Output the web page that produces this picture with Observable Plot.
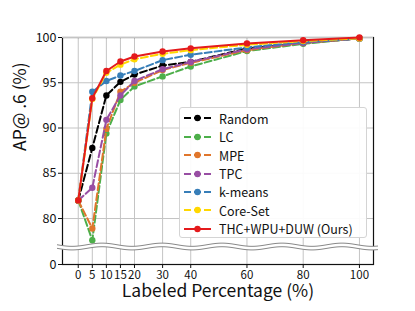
<!DOCTYPE html>
<html><head><meta charset="utf-8">
<script src="https://cdn.jsdelivr.net/npm/d3@7"></script>
<script src="https://cdn.jsdelivr.net/npm/@observablehq/plot@0.6"></script>
<style>
body{margin:0;background:#fff;font-family:"Noto Sans CJK JP","Noto Sans",sans-serif}
#wrap{position:relative;width:415px;height:311px}
.legend{position:absolute;left:179px;top:107px;width:188px;height:131px;box-sizing:border-box;border:1px solid #d4d4d4;border-radius:3px;background:rgba(255,255,255,0.92)}
.row{position:absolute;left:0;height:18px;display:flex;align-items:center;font-size:12.5px;color:#111;white-space:nowrap}
.row svg{margin-left:3px;margin-right:8px}
</style></head><body><div id="wrap"></div>
<script>
const xValues = [0, 5, 10, 15, 20, 30, 40, 60, 80, 100];
const xTicks = [0, 5, 10, 15, 20, 30, 40, 60, 80, 100];
const yTicks = [0, 80, 85, 90, 95, 100];
const seriesNames = ["Random", "LC", "MPE", "TPC", "k-means", "Core-Set", "THC+WPU+DUW (Ours)"];
const seriesColors = ["#000000", "#4daf4a", "#e0762c", "#984ea3", "#377eb8", "#ffd700", "#e41a1c"];
const random  = [82, 87.8, 93.6, 95.1, 95.9, 96.9, 97.3, 98.8, 99.4, 99.9];
const lc      = [82, 77.6, 89.4, 93.1, 94.6, 95.7, 96.8, 98.5, 99.3, 99.9];
const mpe     = [82, 78.9, 89.9, 94.0, 95.0, 96.4, 97.2, 98.6, 99.4, 99.9];
const tpc     = [82, 83.4, 90.9, 93.6, 95.2, 96.5, 97.3, 98.7, 99.4, 99.9];
const kmeans  = [82, 94.0, 95.2, 95.8, 96.3, 97.5, 98.1, 98.9, 99.5, 99.9];
const coreset = [82, 93.2, 96.1, 97.0, 97.6, 98.2, 98.6, 99.2, 99.6, 99.9];
const ours    = [82, 93.3, 96.3, 97.35, 97.9, 98.45, 98.8, 99.35, 99.7, 100];
const seriesValues = [random, lc, mpe, tpc, kmeans, coreset, ours];

const BREAK_BASE = 74.92;   // where 0 sits on the broken axis
const BREAK_AT = 76.85;     // position of the wavy break

const rows = [];
seriesNames.forEach((s, i) => seriesValues[i].forEach((v, j) => rows.push({series: s, x: xValues[j], y: v})));

const marks = [
  Plot.gridX(xTicks, {stroke: "#c4c4c4", strokeOpacity: 1, strokeWidth: 1}),
  Plot.gridY(yTicks, {stroke: "#c4c4c4", strokeOpacity: 1, strokeWidth: 1}),
  Plot.frame({stroke: "#111", strokeWidth: 1.2}),
  Plot.gridY([100], {stroke: "#c4c4c4", strokeOpacity: 1, strokeWidth: 1.2}),
  Plot.axisX(xTicks, {tickSize: 4, tickPadding: 2, fontSize: 11.5, label: null, stroke: "#111"}),
  Plot.axisY(yTicks, {tickSize: 4, tickPadding: 2, fontSize: 12.5, label: null, stroke: "#111"}),
];
seriesNames.forEach((s, i) => {
  const d = rows.filter(r => r.series === s);
  const ourSeries = i === seriesNames.length - 1;
  marks.push(Plot.line(d, {x: "x", y: "y", stroke: seriesColors[i], strokeWidth: 2,
    strokeDasharray: ourSeries ? null : "7,3"}));
  marks.push(Plot.dot(d, {x: "x", y: "y", fill: seriesColors[i], r: 3.2, stroke: "none"}));
});
marks.push(Plot.text(["Labeled Percentage (%)"], {frameAnchor: "bottom", dy: 32, fontSize: 17.5, fill: "#111"}));
marks.push(Plot.text(["AP@ .6 (%)"], {frameAnchor: "left", dx: -42, rotate: -90, fontSize: 17.5, fill: "#111"}));

const chart = Plot.plot({
  width: 415, height: 311,
  marginLeft: 62, marginRight: 42, marginTop: 37, marginBottom: 47,
  style: {fontFamily: '"Noto Sans CJK JP","Noto Sans",sans-serif', fontSize: "12px", background: "white", color: "#111"},
  x: {domain: [-5.6, 105]},
  y: {domain: [BREAK_BASE, 100], transform: v => v < 50 ? BREAK_BASE + v : v},
  marks
});
document.getElementById("wrap").appendChild(chart);

// wavy axis break
const yScale = chart.scale("y");
const yc = yScale.apply(BREAK_AT);
const wx0 = 57, wx1 = 378;
const svgSel = d3.select(chart);
const wave = (off) => d3.range(wx0, wx1 + 1, 1).map(x => [x, yc + off + 1.6 * Math.sin((x - wx0) / 60 * 2 * Math.PI)]);
const waveTop = wave(-1.8), waveBot = wave(1.8);
svgSel.append("path").attr("d", d3.line()(waveTop.concat(waveBot.slice().reverse())) + "Z").attr("fill", "white").attr("stroke", "none");
svgSel.append("path").attr("d", d3.line()(waveTop)).attr("fill", "none").attr("stroke", "#888").attr("stroke-width", 1);
svgSel.append("path").attr("d", d3.line()(waveBot)).attr("fill", "none").attr("stroke", "#888").attr("stroke-width", 1);

// legend
const lg = document.createElement("div");
lg.className = "legend";
seriesNames.forEach((s, i) => {
  const r = document.createElement("div");
  r.className = "row";
  r.style.top = (1.3 + i * 18.4) + "px";
  const dash = i === seriesNames.length - 1 ? "" : 'stroke-dasharray="7,3"';
  r.innerHTML = `<svg width="28" height="10"><line x1="1" x2="28" y1="5" y2="5" stroke="${seriesColors[i]}" stroke-width="2" ${dash}/><circle cx="14.5" cy="5" r="3.2" fill="${seriesColors[i]}"/></svg><span>${s}</span>`;
  lg.appendChild(r);
});
document.getElementById("wrap").appendChild(lg);
</script>
</body></html>
